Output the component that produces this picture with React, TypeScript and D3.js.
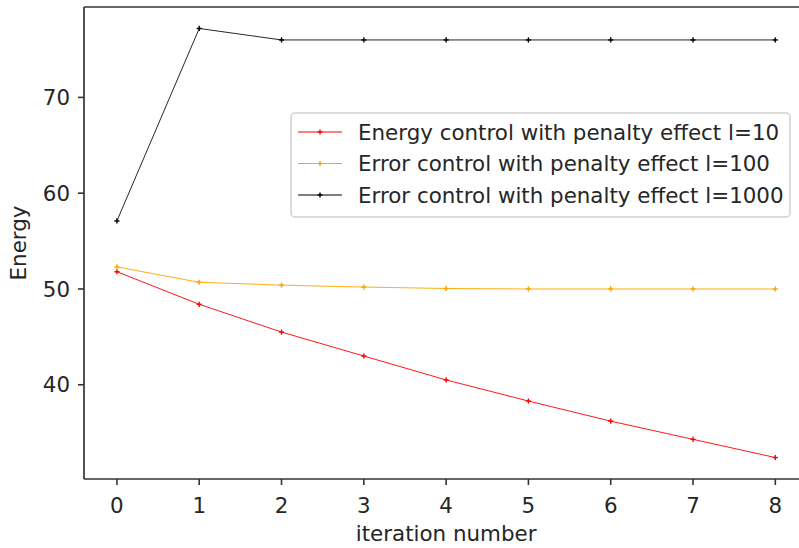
import React from "react";
import * as d3 from "d3";

// Iteration index on the x axis
const iterations = [0, 1, 2, 3, 4, 5, 6, 7, 8];

// Energy per iteration for each run
const energyL10 = [51.8, 48.4, 45.5, 43.0, 40.5, 38.3, 36.2, 34.3, 32.4];
const errorL100 = [52.3, 50.7, 50.4, 50.2, 50.05, 50.0, 50.0, 50.0, 50.0];
const errorL1000 = [57.1, 77.2, 76.0, 76.0, 76.0, 76.0, 76.0, 76.0, 76.0];

const seriesLabels = [
  "Energy control with penalty effect l=10",
  "Error control with penalty effect l=100",
  "Error control with penalty effect l=1000",
];
const seriesColors = ["#ff0000", "#ffa500", "#000000"];

const xTicks = [0, 1, 2, 3, 4, 5, 6, 7, 8];
const yTicks = [40, 50, 60, 70];

const W = 799;
const H = 548;
const FONT = "'DejaVu Sans', sans-serif";
const FS = 21.4;

export default function App() {
  const series = [energyL10, errorL100, errorL1000];
  const all = series.flat();
  const lo = d3.min(all)!;
  const hi = d3.max(all)!;
  const padY = (hi - lo) * 0.05;

  const left = 84;
  const top = 7;
  const bottom = 479;
  const unit = 82.3;

  const x = d3
    .scaleLinear()
    .domain([-0.4, 8.4])
    .range([left, left + 8.8 * unit]);
  const y = d3
    .scaleLinear()
    .domain([lo - padY, hi + padY])
    .range([bottom, top]);

  const line = d3
    .line<number>()
    .x((_, i) => x(iterations[i]))
    .y((d) => y(d));

  const right = x.range()[1];
  const tickLen = 6;

  const marker = (cx: number, cy: number, color: string, key: string) => (
    <g key={key} stroke={color} strokeWidth={1.4}>
      <line x1={cx - 2.6} x2={cx + 2.6} y1={cy} y2={cy} />
      <line x1={cx} x2={cx} y1={cy - 2.6} y2={cy + 2.6} />
    </g>
  );

  // legend geometry
  const lgX = 291;
  const lgY = 113;
  const lgW = 499;
  const lgH = 104;
  const rowY = [132, 163.5, 195];

  return (
    <svg
      width={W}
      height={H}
      style={{ position: "absolute", left: 0, top: 0, background: "#fff" }}
      fontFamily={FONT}
    >
      <rect width={W} height={H} fill="#fff" />

      {/* series */}
      {series.map((s, si) => (
        <g key={si}>
          <path
            d={line(s) ?? ""}
            fill="none"
            stroke={seriesColors[si]}
            strokeWidth={1}
            strokeOpacity={si === 2 ? 0.85 : 0.9}
          />
          {s.map((v, i) => marker(x(iterations[i]), y(v), seriesColors[si], `${si}-${i}`))}
        </g>
      ))}

      {/* spines */}
      <g stroke="#333" strokeWidth={1.7} fill="none">
        <line x1={left} x2={left} y1={top} y2={bottom} />
        <line x1={left} x2={right} y1={top} y2={top} />
        <line x1={left} x2={right} y1={bottom} y2={bottom} />
        <line x1={right} x2={right} y1={top} y2={bottom} />
      </g>

      {/* x axis */}
      {xTicks.map((t) => (
        <g key={`xt${t}`}>
          <line x1={x(t)} x2={x(t)} y1={bottom} y2={bottom + tickLen} stroke="#333" strokeWidth={1.6} />
          <text x={x(t)} y={513} textAnchor="middle" fontSize={FS} fill="#262626">
            {t}
          </text>
        </g>
      ))}
      <text x={(left + right) / 2} y={541} textAnchor="middle" fontSize={FS} fill="#262626">
        iteration number
      </text>

      {/* y axis */}
      {yTicks.map((t) => (
        <g key={`yt${t}`}>
          <line x1={left - tickLen} x2={left} y1={y(t)} y2={y(t)} stroke="#333" strokeWidth={1.6} />
          <text
            x={left - tickLen - 8}
            y={y(t)}
            dy="0.36em"
            textAnchor="end"
            fontSize={FS}
            fill="#262626"
          >
            {t}
          </text>
        </g>
      ))}
      <text
        transform={`translate(26,${(top + bottom) / 2}) rotate(-90)`}
        textAnchor="middle"
        fontSize={FS}
        fill="#262626"
      >
        Energy
      </text>

      {/* legend */}
      <rect
        x={lgX}
        y={lgY}
        width={lgW}
        height={lgH}
        rx={4}
        fill="#fff"
        fillOpacity={0.8}
        stroke="#d0d0d0"
        strokeWidth={1.5}
      />
      {seriesLabels.map((lab, i) => (
        <g key={lab}>
          <line
            x1={298}
            x2={342}
            y1={rowY[i]}
            y2={rowY[i]}
            stroke={seriesColors[i]}
            strokeWidth={1}
          />
          {marker(320, rowY[i], seriesColors[i], `lg${i}`)}
          <text x={358} y={rowY[i]} dy="0.36em" fontSize={FS} fill="#262626">
            {lab}
          </text>
        </g>
      ))}
    </svg>
  );
}
